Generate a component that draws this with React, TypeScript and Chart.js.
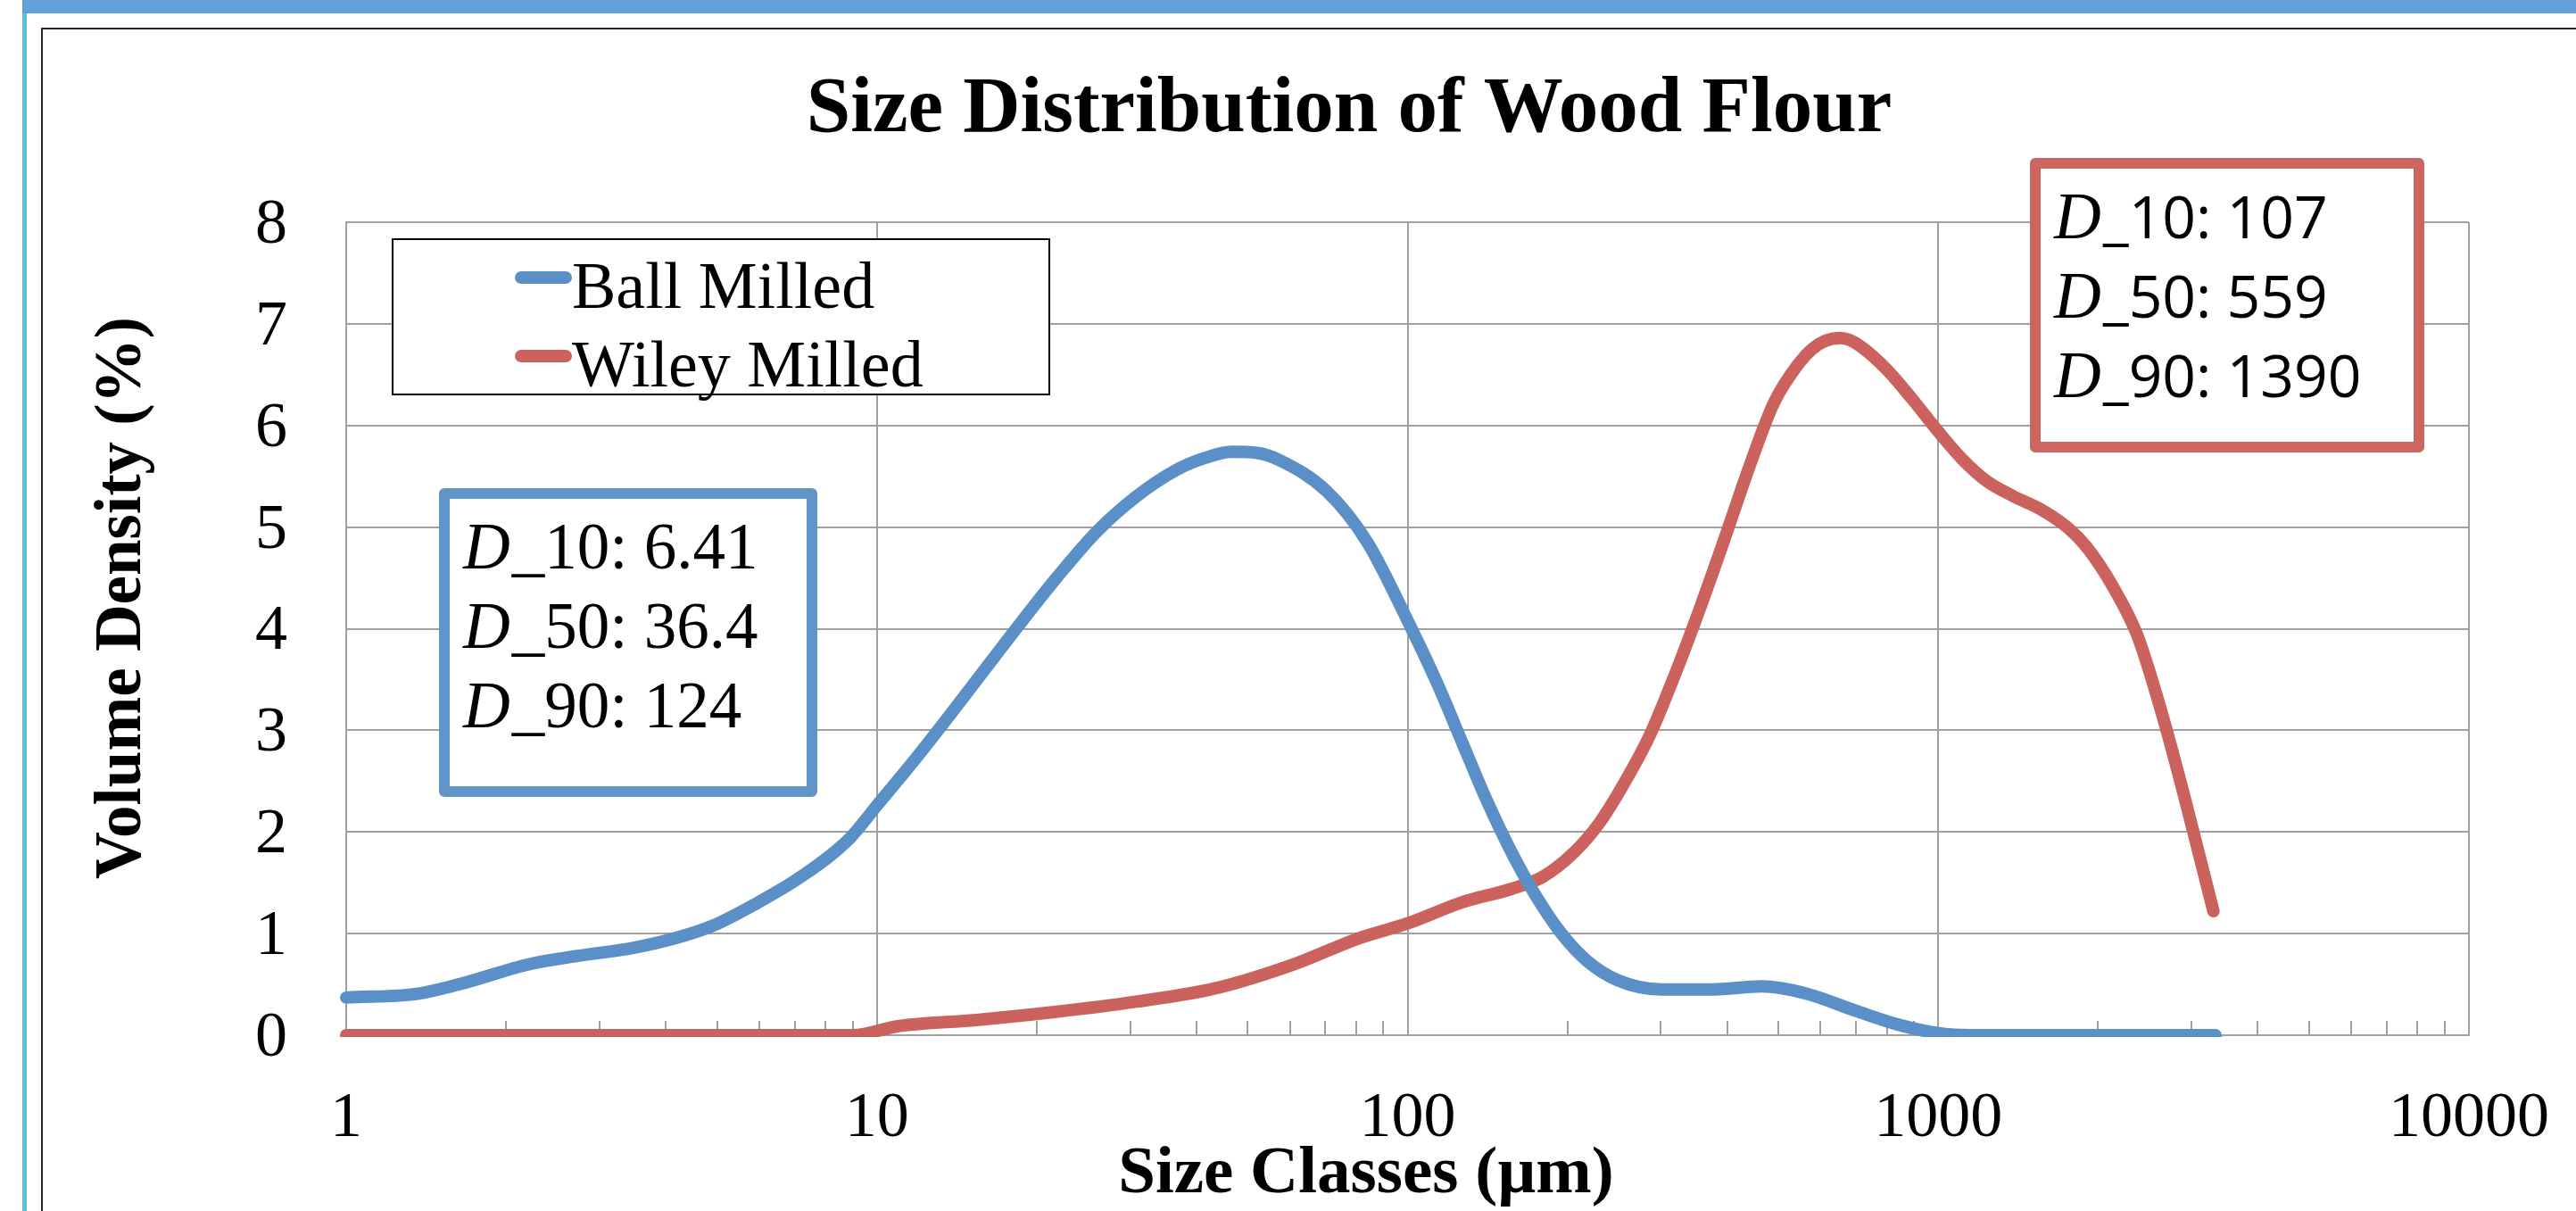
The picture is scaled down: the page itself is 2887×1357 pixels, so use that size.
import React, { useEffect, useRef } from "react";
import { Chart, registerables } from "chart.js";

Chart.register(...registerables);

// ---------- data ----------
const SERIES_NAMES = ["Ball Milled", "Wiley Milled"];

const BALL_SIZES = [
  1, 1.37, 1.63, 2.22, 2.73, 3.48, 4.14, 4.92, 5.85, 7.2, 8.86, 10, 11.7, 13.4, 15.4, 18.3,
  21.8, 25.9, 30.8, 36.6, 41.5, 46.6, 52, 57.3, 70.5, 84, 100, 114, 127, 141, 157, 175, 195,
  218, 249, 301, 375, 465, 563, 699, 846, 1000, 1150, 3330,
];
const BALL_DENSITY = [
  0.37, 0.41, 0.5, 0.7, 0.78, 0.86, 0.95, 1.08, 1.28, 1.56, 1.93, 2.26, 2.69, 3.08, 3.49, 4.0,
  4.5, 4.95, 5.3, 5.56, 5.68, 5.74, 5.73, 5.66, 5.35, 4.85, 4.08, 3.45, 2.87, 2.31, 1.8, 1.36,
  1.0, 0.73, 0.54, 0.45, 0.45, 0.48, 0.41, 0.24, 0.1, 0.02, 0, 0,
];

const WILEY_SIZES = [
  1, 9, 11, 15.4, 21.8, 30.8, 43.3, 61.2, 80.6, 100, 127, 157, 180, 206, 230, 256, 286, 318,
  355, 396, 441, 491, 548, 578, 611, 654, 681, 718, 800, 893, 1000, 1109, 1236, 1378, 1578,
  1758, 1906, 2125, 2370, 2641, 2945, 3300,
];
const WILEY_DENSITY = [
  0, 0, 0.09, 0.15, 0.23, 0.33, 0.46, 0.7, 0.95, 1.1, 1.31, 1.44, 1.56, 1.8, 2.09, 2.48, 2.95,
  3.53, 4.19, 4.89, 5.6, 6.23, 6.62, 6.75, 6.83, 6.86, 6.84, 6.77, 6.55, 6.26, 5.94, 5.67, 5.45,
  5.31, 5.16, 4.99, 4.8, 4.43, 3.94, 3.16, 2.24, 1.22,
];

const X_MAJOR_TICKS = [1, 10, 100, 1000, 10000];
const Y_MIN = 0;
const Y_MAX = 8;
const Y_STEP = 1;

const BALL_STATS = [
  ["10", "6.41"],
  ["50", "36.4"],
  ["90", "124"],
];
const WILEY_STATS = [
  ["10", "107"],
  ["50", "559"],
  ["90", "1390"],
];

const TITLE = "Size Distribution of Wood Flour";
const X_TITLE = "Size Classes (\u00b5m)";
const Y_TITLE = "Volume Density (%)";

// ---------- styles ----------
const W = 2887;
const H = 1357;
const SERIF = '"Liberation Serif", "Times New Roman", serif';
const SANS = '"Open Sans", "Liberation Sans", sans-serif';
const BLUE = "#5B8FC8";
const RED = "#CB625D";
const BLUE_BOX = "#6195C9";
const RED_BOX = "#CD6660";
const GRID = "#A0A0A0";
const LINE_W = 14;

const X_TICK_VALUES: number[] = [];
X_MAJOR_TICKS.forEach((d, i) => {
  if (i === X_MAJOR_TICKS.length - 1) {
    X_TICK_VALUES.push(d);
  } else {
    for (let m = 1; m <= 9; m++) X_TICK_VALUES.push(m * d);
  }
});

const isMajor = (v: number | undefined) => v !== undefined && X_MAJOR_TICKS.includes(v);

function drawStat(ctx: CanvasRenderingContext2D, x: number, y: number, label: string, value: string, restFont: string) {
  ctx.font = `italic 73px ${SERIF}`;
  ctx.fillText("D", x, y);
  const w = ctx.measureText("D").width;
  ctx.font = restFont;
  ctx.fillText(`_${label}: ${value}`, x + w + 2, y);
}

const decorPlugin = {
  id: "decor",
  beforeDraw(chart: any) {
    const ctx: CanvasRenderingContext2D = chart.ctx;
    ctx.save();
    ctx.fillStyle = "#ffffff";
    ctx.fillRect(0, 0, W, H);
    // frame decorations
    ctx.fillStyle = "#5BBFDD";
    ctx.fillRect(25, 0, 5, H);
    ctx.fillStyle = "#64A0DC";
    ctx.fillRect(25, 0, W - 25, 15);
    ctx.strokeStyle = "#262626";
    ctx.lineWidth = 2;
    ctx.beginPath();
    ctx.moveTo(47, H);
    ctx.lineTo(47, 32);
    ctx.lineTo(W, 32);
    ctx.stroke();

    ctx.fillStyle = "#000";
    ctx.textBaseline = "alphabetic";
    ctx.textAlign = "center";
    ctx.font = `bold 89px ${SERIF}`;
    ctx.fillText(TITLE, 1512, 147);
    ctx.font = `bold 75px ${SERIF}`;
    ctx.fillText(X_TITLE, 1531, 1336);
    ctx.save();
    ctx.translate(157, 670);
    ctx.rotate(-Math.PI / 2);
    ctx.font = `bold 73px ${SERIF}`;
    ctx.fillText(Y_TITLE, 0, 0);
    ctx.restore();
    ctx.restore();
  },
  afterDraw(chart: any) {
    const ctx: CanvasRenderingContext2D = chart.ctx;
    ctx.save();
    ctx.textBaseline = "alphabetic";
    ctx.textAlign = "left";

    // legend
    ctx.fillStyle = "#fff";
    ctx.fillRect(440, 268, 736, 174);
    ctx.strokeStyle = "#000";
    ctx.lineWidth = 2;
    ctx.strokeRect(440, 268, 736, 174);
    const legendColors = [BLUE, RED];
    const legendY = [311, 399];
    const legendBase = [345, 433];
    SERIES_NAMES.forEach((name, i) => {
      ctx.strokeStyle = legendColors[i];
      ctx.lineWidth = LINE_W;
      ctx.lineCap = "round";
      ctx.beginPath();
      ctx.moveTo(584, legendY[i]);
      ctx.lineTo(634, legendY[i]);
      ctx.stroke();
      ctx.fillStyle = "#000";
      ctx.font = `74px ${SERIF}`;
      ctx.fillText(name, 641, legendBase[i]);
    });

    // stats boxes
    ctx.lineJoin = "round";
    ctx.lineCap = "butt";
    ctx.lineWidth = 12;
    ctx.fillStyle = "#fff";
    ctx.fillRect(498, 553, 412, 334);
    ctx.strokeStyle = BLUE_BOX;
    ctx.strokeRect(498, 553, 412, 334);
    ctx.fillRect(2281, 183, 430, 318);
    ctx.strokeStyle = RED_BOX;
    ctx.strokeRect(2281, 183, 430, 318);

    ctx.fillStyle = "#000";
    BALL_STATS.forEach(([l, v], i) => {
      drawStat(ctx, 519, 637 + i * 89, l, v, `73px ${SERIF}`);
    });
    WILEY_STATS.forEach(([l, v], i) => {
      drawStat(ctx, 2302, 267 + i * 89, l, v, `66px ${SANS}`);
    });
    ctx.restore();
  },
};

const lineClip = { left: 20, top: 20, right: 20, bottom: 2 };

export default function App() {
  const canvasRef = useRef<HTMLCanvasElement | null>(null);

  useEffect(() => {
    if (!canvasRef.current) return;
    const chart = new Chart(canvasRef.current, {
      type: "line",
      data: {
        datasets: [
          {
            label: SERIES_NAMES[0],
            data: BALL_SIZES.map((x, i) => ({ x, y: BALL_DENSITY[i] })),
            borderColor: BLUE,
            backgroundColor: BLUE,
            borderWidth: LINE_W,
            borderCapStyle: "round",
            borderJoinStyle: "round",
            pointRadius: 0,
            cubicInterpolationMode: "monotone",
            fill: false,
            clip: lineClip as any,
          },
          {
            label: SERIES_NAMES[1],
            data: WILEY_SIZES.map((x, i) => ({ x, y: WILEY_DENSITY[i] })),
            borderColor: RED,
            backgroundColor: RED,
            borderWidth: LINE_W,
            borderCapStyle: "round",
            borderJoinStyle: "round",
            pointRadius: 0,
            cubicInterpolationMode: "monotone",
            fill: false,
            clip: lineClip as any,
          },
        ],
      },
      options: {
        responsive: false,
        animation: false,
        events: [],
        layout: { padding: { left: 0, top: 249, right: 120, bottom: 0 } },
        plugins: {
          legend: { display: false },
          title: { display: false },
          tooltip: { enabled: false },
        },
        scales: {
          x: {
            type: "logarithmic",
            min: 1,
            max: 10000,
            afterBuildTicks: (s: any) => {
              s.ticks = X_TICK_VALUES.map((v) => ({ value: v, major: isMajor(v) }));
            },
            afterFit: (s: any) => {
              s.height = 197;
              s.paddingLeft = 0;
              s.paddingRight = 0;
            },
            ticks: {
              autoSkip: false,
              maxRotation: 0,
              minRotation: 0,
              padding: 67,
              color: "#000",
              font: { family: SERIF, size: 72 },
              callback: (v: any) => (isMajor(Number(v)) ? String(v) : ""),
            },
            grid: {
              color: (c: any) => (c.tick && isMajor(c.tick.value) ? GRID : "rgba(0,0,0,0)"),
              tickColor: GRID,
              tickLength: -16,
              lineWidth: 2,
              tickWidth: 2,
              drawTicks: true,
            },
            border: { display: true, color: GRID, width: 2 },
          },
          y: {
            min: Y_MIN,
            max: Y_MAX,
            afterFit: (s: any) => {
              s.width = 388;
            },
            ticks: {
              stepSize: Y_STEP,
              padding: 66,
              labelOffset: 4,
              color: "#000",
              font: { family: SERIF, size: 72 },
            },
            grid: { color: GRID, lineWidth: 2, drawTicks: false },
            border: { display: true, color: GRID, width: 2 },
          },
        },
      } as any,
      plugins: [decorPlugin],
    });
    return () => chart.destroy();
  }, []);

  return (
    <div style={{ position: "fixed", left: 0, top: 0, width: W, height: H, background: "#fff" }}>
      <canvas ref={canvasRef} width={W} height={H} style={{ width: W, height: H, display: "block" }} />
    </div>
  );
}
